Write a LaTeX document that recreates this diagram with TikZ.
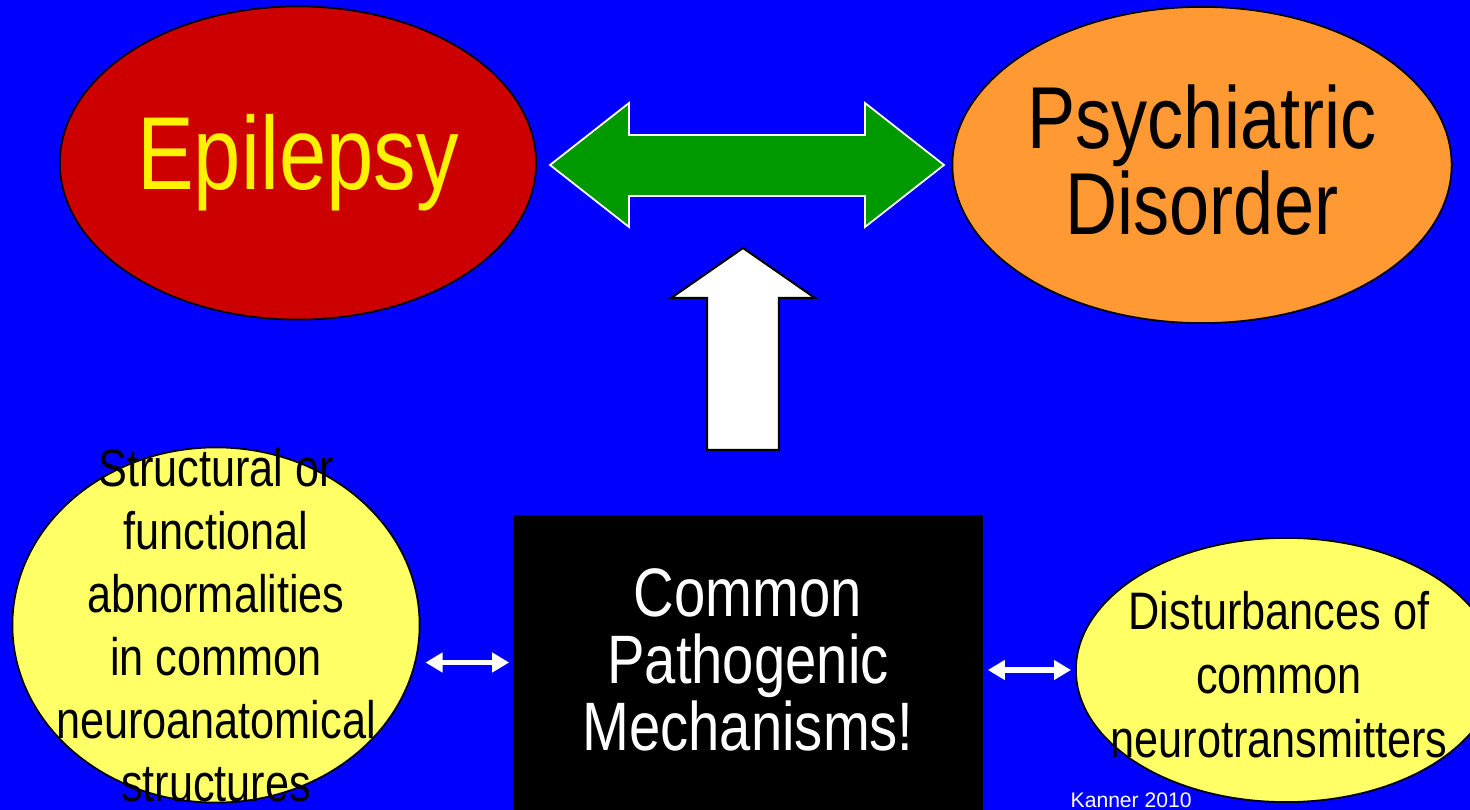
\documentclass[tikz,border=0pt]{standalone}
\usepackage{fontspec}
\setmainfont[FakeStretch=0.82]{Liberation Sans}
\newfontfamily\kannerfont{Liberation Sans}
\usetikzlibrary{shapes.geometric, arrows.meta}

\definecolor{slideblue}{HTML}{0000FF}
\definecolor{epired}{HTML}{CC0000}
\definecolor{psyorange}{HTML}{FF9933}
\definecolor{linkgreen}{HTML}{009900}
\definecolor{paleyellow}{HTML}{FFFF66}

\begin{document}
\begin{tikzpicture}[x=0.01cm, y=-0.01cm,
    oval/.style={ellipse, draw=black, line width=0.5pt, inner sep=0pt},
    bigtext/.style={align=center, inner sep=0pt},
    smallarrow/.style={white, line width=1.6pt,
        {Triangle[length=0.17cm, width=0.19cm]}-{Triangle[length=0.17cm, width=0.19cm]}}]
    % 1. Nền xanh và khung hình
    \clip (0, 0) rectangle (1470, 810);
    \fill[slideblue] (0, 0) rectangle (1470, 810);

    % 2. Hai hình elip phía trên
    \node[oval, fill=epired, minimum width=4.76cm, minimum height=3.13cm] (epi) at (298, 163) {};
    \node[oval, fill=psyorange, minimum width=4.99cm, minimum height=3.16cm] (psy) at (1202, 165) {};
    \node[bigtext, text=yellow, font=\fontsize{29.5}{30}\selectfont] (epitext) at (epi) {Epilepsy};
    \node[bigtext, font=\fontsize{25}{23.3}\selectfont] (psytext) at (1202, 160) {Psychiatric\\Disorder};

    % 3. Mũi tên hai chiều màu xanh lá
    \draw[white, fill=linkgreen, line width=0.5pt]
        (550, 165) -- (629, 103) -- (629, 135) -- (865, 135) -- (865, 103) -- (944, 165)
        -- (865, 227) -- (865, 196) -- (629, 196) -- (629, 227) -- cycle;

    % 4. Mũi tên trắng hướng lên
    \draw[black, fill=white, line width=0.6pt]
        (743, 248) -- (815, 298) -- (779, 298) -- (779, 450) -- (707, 450) -- (707, 298) -- (671, 298) -- cycle;

    % 5. Các khối phía dưới
    \node[oval, fill=paleyellow, minimum width=4.07cm, minimum height=3.55cm] (struct) at (216, 625) {};
    \node[fill=black, inner sep=0pt, minimum width=4.7cm, minimum height=2.95cm] (mech) at (748, 662.5) {};
    \node[oval, fill=paleyellow, minimum width=4.2cm, minimum height=2.64cm] (neuro) at (1286, 670) {};

    \node[bigtext, font=\fontsize{15}{17.9}\selectfont] (structtext) at (216, 625)
        {Structural or\\functional\\abnormalities\\in common\\neuroanatomical\\structures};
    \node[bigtext, text=white, font=\fontsize{19.5}{19}\selectfont] (mechtext) at (748, 660)
        {Common\\Pathogenic\\Mechanisms!};
    \node[bigtext, font=\fontsize{15}{18.2}\selectfont] (neurotext) at (1279, 675)
        {Disturbances of\\common\\neurotransmitters};

    % 6. Mũi tên nhỏ hai chiều
    \draw[smallarrow] ([xshift=-0.03cm]mech.west) -- ([xshift=0.05cm]mech.west -| struct.east);
    \draw[smallarrow] ([xshift=-0.04cm]neuro.west) -- ([xshift=0.04cm]neuro.west -| mech.east);

    % 7. Nguồn
    \node[anchor=base west, inner sep=0pt, text=white, font=\kannerfont\fontsize{6}{7}\selectfont] (cite) at (1070, 807) {Kanner 2010};
\end{tikzpicture}
\end{document}
